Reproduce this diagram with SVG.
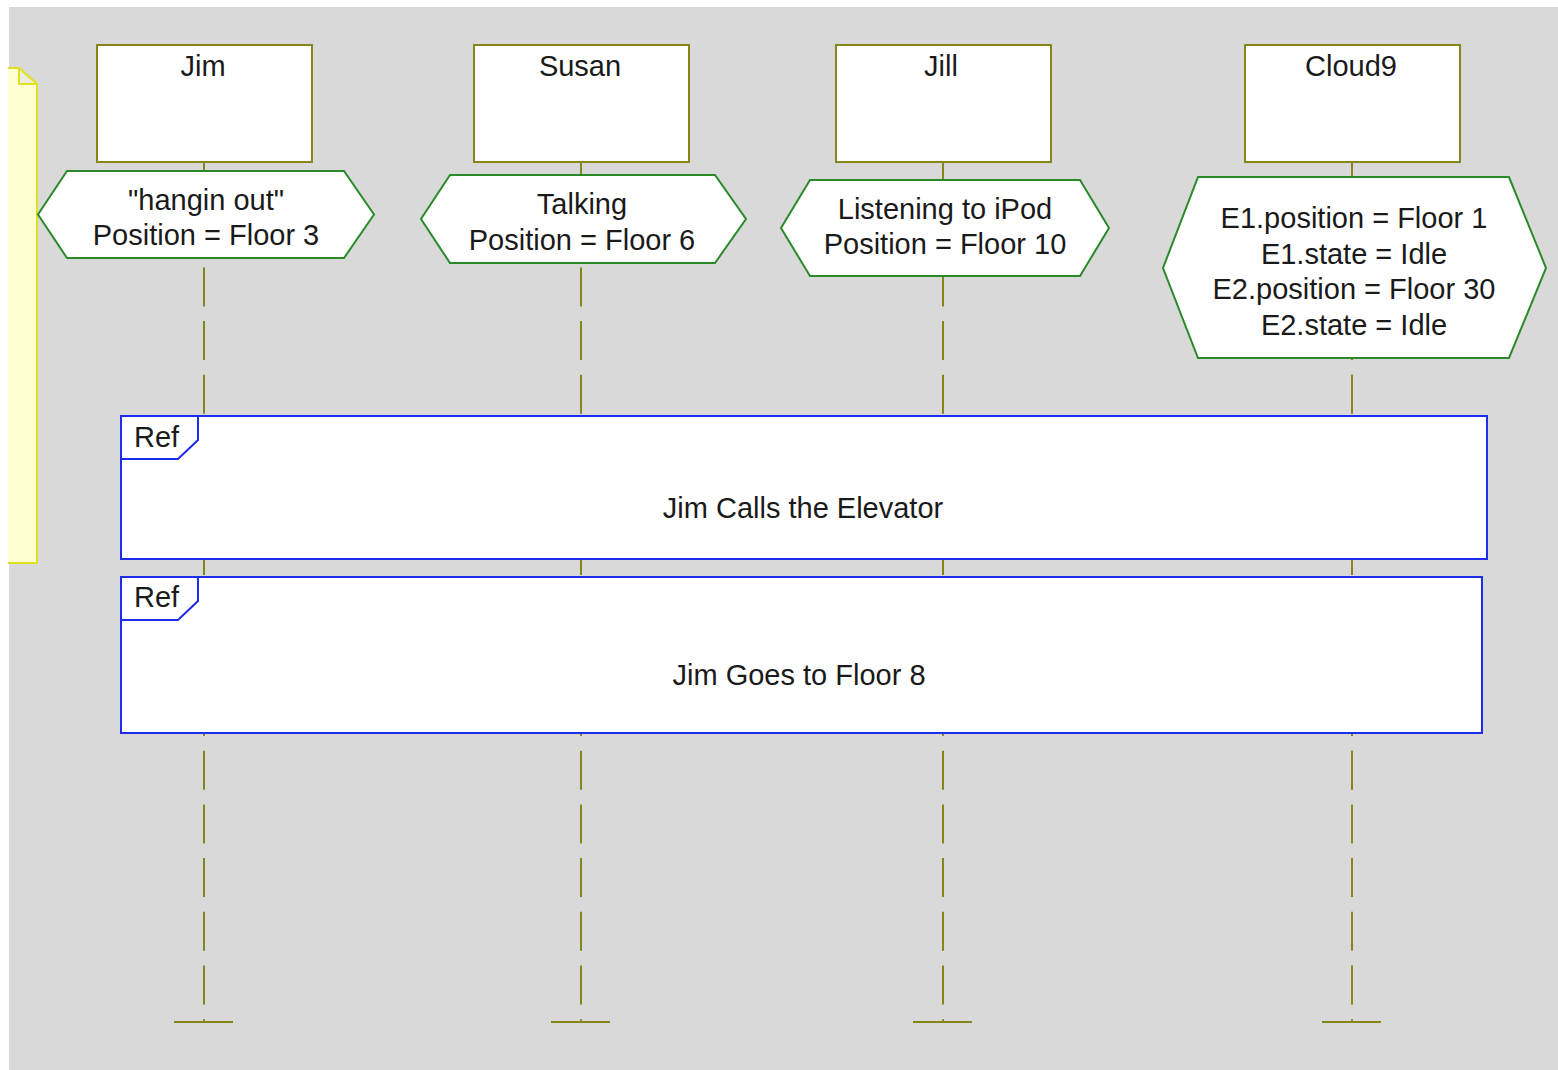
<svg xmlns="http://www.w3.org/2000/svg" width="1558" height="1070" viewBox="0 0 1558 1070">
  <defs>
    <style>
      .canvas { fill: #d9d9d9; }
      .head { fill: #ffffff; stroke: #858519; stroke-width: 2; }
      .state { fill: #ffffff; stroke: #2a8a2a; stroke-width: 2; stroke-linejoin: miter; }
      .life { stroke: #858519; stroke-width: 2; fill: none; }
      .dashed { stroke-dasharray: 39 14.7; }
      .ref { fill: #ffffff; stroke: #1f2cf0; stroke-width: 2; }
      .tab { fill: none; stroke: #1f2cf0; stroke-width: 2; }
      .note { fill: #ffffd0; stroke: #e0e020; stroke-width: 2; }
      text { font-family: "Liberation Sans", Arial, sans-serif; font-size: 29px; fill: #1a1a1a; }
      .c { text-anchor: middle; }
    </style>
  </defs>

  <rect x="0" y="0" width="1558" height="1070" fill="#ffffff"/>
  <rect class="canvas" x="9" y="7" width="1549" height="1063"/>

  <!-- comment note, clipped at the left edge -->
  <g id="note">
    <path class="note" d="M8 68 H19 L37 84 V563 H8"/>
    <path d="M19 68 V84 H37 Z" fill="#ecece0" stroke="#e0e020" stroke-width="2" stroke-linejoin="round"/>
  </g>

  <!-- lifelines -->
  <g id="connectors">
    <line class="life dashed" x1="204" y1="160" x2="204" y2="1022"/>
    <line class="life dashed" x1="581" y1="160" x2="581" y2="1022"/>
    <line class="life dashed" x1="943" y1="160" x2="943" y2="1022"/>
    <line class="life dashed" x1="1352" y1="160" x2="1352" y2="1022"/>
    <line class="life" x1="174" y1="1022" x2="233" y2="1022"/>
    <line class="life" x1="551" y1="1022" x2="610" y2="1022"/>
    <line class="life" x1="913" y1="1022" x2="972" y2="1022"/>
    <line class="life" x1="1322" y1="1022" x2="1381" y2="1022"/>
  </g>

  <!-- participants -->
  <g id="jim">
    <rect class="head" x="97" y="45" width="215" height="117"/>
    <text class="c" x="203" y="76">Jim</text>
  </g>
  <g id="susan">
    <rect class="head" x="474" y="45" width="215" height="117"/>
    <text class="c" x="580" y="76">Susan</text>
  </g>
  <g id="jill">
    <rect class="head" x="836" y="45" width="215" height="117"/>
    <text class="c" x="941" y="76">Jill</text>
  </g>
  <g id="cloud9">
    <rect class="head" x="1245" y="45" width="215" height="117"/>
    <text class="c" x="1351" y="76">Cloud9</text>
  </g>

  <!-- state invariants -->
  <g id="jim-state">
    <polygon class="state" points="67,171 344,171 374,214.5 344,258 67,258 38,214.5"/>
    <text class="c" x="206" y="210">"hangin out"</text>
    <text class="c" x="206" y="245">Position = Floor 3</text>
  </g>
  <g id="susan-state">
    <polygon class="state" points="450,175 715,175 746,219 715,263 450,263 421,219"/>
    <text class="c" x="582" y="214">Talking</text>
    <text class="c" x="582" y="250">Position = Floor 6</text>
  </g>
  <g id="jill-state">
    <polygon class="state" points="810,180 1080,180 1109,228 1080,276 810,276 781,228"/>
    <text class="c" x="945" y="219">Listening to iPod</text>
    <text class="c" x="945" y="254">Position = Floor 10</text>
  </g>
  <g id="cloud9-state">
    <polygon class="state" points="1198,177 1509,177 1546,268 1509,358 1198,358 1163,268"/>
    <text class="c" x="1354" y="228">E1.position = Floor 1</text>
    <text class="c" x="1354" y="264">E1.state = Idle</text>
    <text class="c" x="1354" y="299">E2.position = Floor 30</text>
    <text class="c" x="1354" y="335">E2.state = Idle</text>
  </g>

  <!-- interaction uses -->
  <g id="ref-calls">
    <rect class="ref" x="121" y="416" width="1366" height="143"/>
    <path class="tab" d="M121 459 H178 L198 440 V416"/>
    <text x="134" y="447">Ref</text>
    <text class="c" x="803" y="518">Jim Calls the Elevator</text>
  </g>
  <g id="ref-goes">
    <rect class="ref" x="121" y="577" width="1361" height="156"/>
    <path class="tab" d="M121 620 H178 L198 601 V577"/>
    <text x="134" y="607">Ref</text>
    <text class="c" x="799" y="685">Jim Goes to Floor 8</text>
  </g>
</svg>
